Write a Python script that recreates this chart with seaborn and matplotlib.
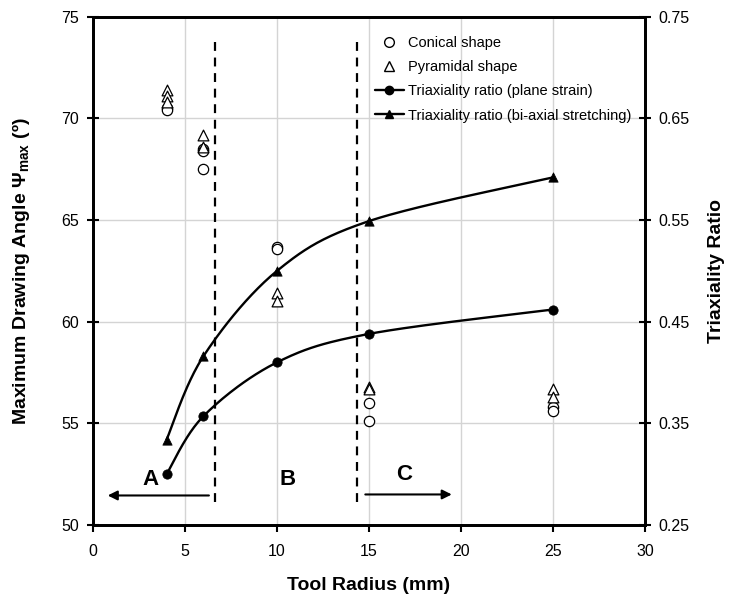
import numpy as np
import pandas as pd
import matplotlib
matplotlib.use("Agg")
import matplotlib.pyplot as plt
from matplotlib.lines import Line2D
import seaborn as sns

# ---- data ----
conical_radius = [4, 4, 6, 6, 6, 10, 10, 15, 15, 25, 25]
conical_angle = [70.5, 70.4, 68.5, 68.4, 67.5, 63.7, 63.6, 56.0, 55.1, 55.8, 55.6]

pyramid_radius = [4, 4, 4, 6, 6, 10, 10, 15, 15, 25, 25]
pyramid_angle = [71.4, 71.1, 70.8, 69.2, 68.6, 61.4, 61.0, 56.8, 56.7, 56.7, 56.3]

tri_radius = [4, 6, 10, 15, 25]
tri_plane = [0.300, 0.357, 0.410, 0.438, 0.462]
tri_biaxial = [0.334, 0.416, 0.500, 0.549, 0.592]

legend_labels = ["Conical shape", "Pyramidal shape",
                 "Triaxiality ratio (plane strain)",
                 "Triaxiality ratio (bi-axial stretching)"]


def smooth_line(x, y, n=40):
    # excel-like smoothed line through the points (bezier segments)
    p = np.column_stack([x, y]).astype(float)
    p = np.vstack([p[0], p, p[-1]])
    out = []
    t = np.linspace(0, 1, n)[:, None]
    for i in range(1, len(p) - 2):
        p0, p1, p2, p3 = p[i - 1], p[i], p[i + 1], p[i + 2]
        b1 = p1 + (p2 - p0) / 6
        b2 = p2 - (p3 - p1) / 6
        seg = ((1 - t) ** 3) * p1 + 3 * ((1 - t) ** 2) * t * b1 + 3 * (1 - t) * t ** 2 * b2 + t ** 3 * p2
        out.append(seg)
    out = np.vstack(out)
    return out[:, 0], out[:, 1]


sns.set_style("ticks")
plt.rcParams["font.family"] = ["Liberation Sans", "DejaVu Sans"]
plt.rcParams["mathtext.fontset"] = "custom"
plt.rcParams["mathtext.rm"] = "Liberation Sans"
plt.rcParams["text.color"] = "black"
plt.rcParams["axes.labelcolor"] = "black"
plt.rcParams["xtick.color"] = "black"
plt.rcParams["ytick.color"] = "black"

fig, ax = plt.subplots(figsize=(7.34, 6.02), dpi=100)
fig.subplots_adjust(left=0.1267, right=0.8787, bottom=0.128, top=0.972)
ax2 = ax.twinx()

# shapes (left axis)
con_df = pd.DataFrame({"r": conical_radius, "a": conical_angle})
pyr_df = pd.DataFrame({"r": pyramid_radius, "a": pyramid_angle})
sns.scatterplot(x="r", y="a", data=con_df, ax=ax, marker="o", s=55,
                facecolor="white", edgecolor="black", linewidth=0.9, zorder=4)
sns.scatterplot(x="r", y="a", data=pyr_df, ax=ax, marker="^", s=60,
                facecolor="white", edgecolor="black", linewidth=0.9, zorder=4)

# triaxiality (right axis)
for vals, mk in [(tri_plane, "o"), (tri_biaxial, "^")]:
    sx, sy = smooth_line(tri_radius, vals)
    sns.lineplot(x=sx, y=sy, ax=ax2, color="black", linewidth=1.7, sort=False,
                 estimator=None, zorder=3)
    sns.scatterplot(x=tri_radius, y=vals, ax=ax2, marker=mk, s=45,
                    color="black", edgecolor="black", zorder=4)

# zone separators and arrows
ax.plot([6.65, 6.65], [51.15, 73.9], ls=(0, (4, 3)), color="black", lw=1.6)
ax.plot([14.35, 14.35], [51.15, 74.0], ls=(0, (4, 3)), color="black", lw=1.6)
ax.annotate("", xy=(0.8, 51.45), xytext=(6.3, 51.45),
            arrowprops=dict(arrowstyle="-|>", color="black", lw=1.5,
                            mutation_scale=14, shrinkA=0, shrinkB=0))
ax.annotate("", xy=(19.5, 51.5), xytext=(14.8, 51.5),
            arrowprops=dict(arrowstyle="-|>", color="black", lw=1.5,
                            mutation_scale=14, shrinkA=0, shrinkB=0))
ax.text(3.1, 52.25, "A", fontsize=16, fontweight="bold", ha="center", va="center")
ax.text(10.6, 52.25, "B", fontsize=16, fontweight="bold", ha="center", va="center")
ax.text(16.9, 52.5, "C", fontsize=16, fontweight="bold", ha="center", va="center")

# axes formatting
ax.set_xlim(0, 30)
ax.set_ylim(50, 75)
ax2.set_ylim(0.25, 0.75)
ax.set_xticks(range(0, 31, 5))
ax.set_yticks(range(50, 76, 5))
ax2.set_yticks(np.arange(0.25, 0.76, 0.10))
ax2.set_yticklabels([f"{v:.2f}" for v in np.arange(0.25, 0.76, 0.10)])
ax.grid(True, color="#d4d4d4", linewidth=1.0)
ax.set_axisbelow(True)
for a in (ax, ax2):
    for sp in a.spines.values():
        sp.set_linewidth(2.0)
        sp.set_color("black")
ax.tick_params(axis="both", labelsize=11.5, width=1.5, length=5, direction="out", pad=9)
ax.tick_params(axis="y", direction="inout", length=8, pad=6)
ax2.tick_params(axis="y", labelsize=11.5, width=1.5, length=8, direction="inout", pad=6)

ax.set_xlabel("Tool Radius (mm)", fontsize=14, fontweight="bold", labelpad=13)
ax.set_ylabel("Maximum Drawing Angle Ψ$_{\\mathregular{max}}$ (º)",
              fontsize=14, fontweight="bold", labelpad=21)
ax2.set_ylabel("Triaxiality Ratio", fontsize=14, fontweight="bold", labelpad=13)

handles = [
    Line2D([], [], ls="none", marker="o", mfc="white", mec="black", ms=7),
    Line2D([], [], ls="none", marker="^", mfc="white", mec="black", ms=7),
    Line2D([], [], color="black", lw=1.7, marker="o", ms=6),
    Line2D([], [], color="black", lw=1.7, marker="^", ms=6),
]
ax2.legend(handles, legend_labels, loc="upper left", bbox_to_anchor=(0.5, 0.974),
           frameon=False, fontsize=10.5, handlelength=2.0, handletextpad=0.3,
           labelspacing=0.7, borderaxespad=0)

fig.savefig("out.png", dpi=100)
